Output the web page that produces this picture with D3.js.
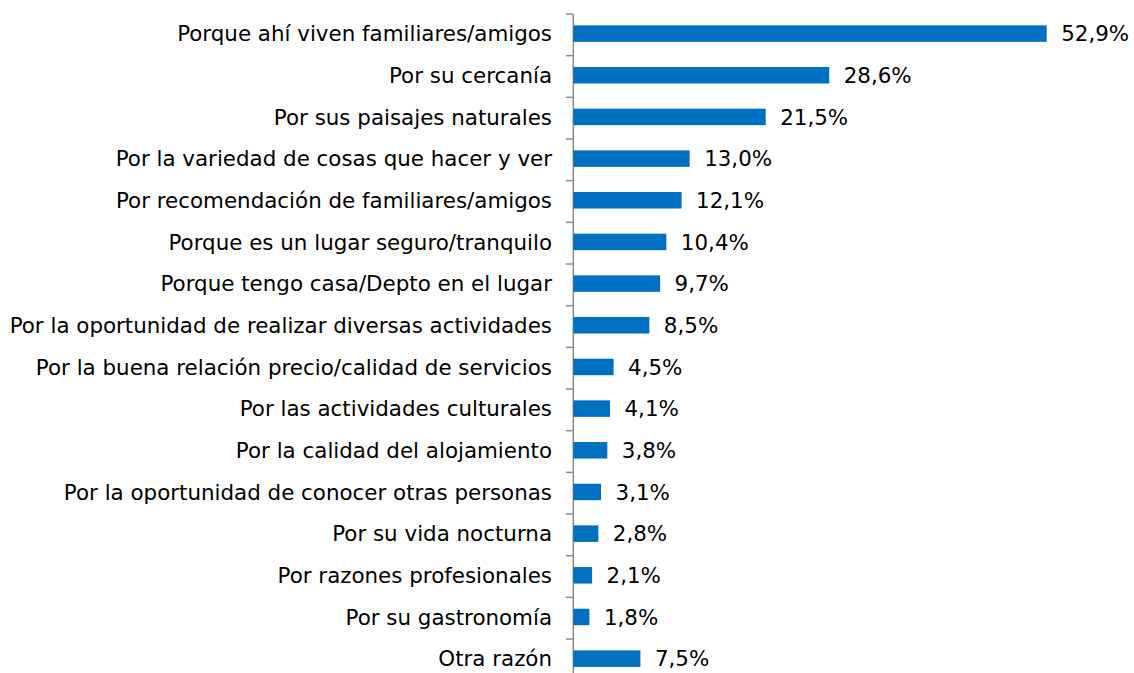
<!DOCTYPE html>
<html><head><meta charset="utf-8">
<script src="https://cdn.jsdelivr.net/npm/d3@7"></script>
<style>body{margin:0;background:#fff}svg{display:block}</style>
</head><body>
<svg id="c" width="1134" height="673"></svg>
<script>
const categories = [
  "Porque ahí viven familiares/amigos",
  "Por su cercanía",
  "Por sus paisajes naturales",
  "Por la variedad de cosas que hacer y ver",
  "Por recomendación de familiares/amigos",
  "Porque es un lugar seguro/tranquilo",
  "Porque tengo casa/Depto en el lugar",
  "Por la oportunidad de realizar diversas actividades",
  "Por la buena relación precio/calidad de servicios",
  "Por las actividades culturales",
  "Por la calidad del alojamiento",
  "Por la oportunidad de conocer otras personas",
  "Por su vida nocturna",
  "Por razones profesionales",
  "Por su gastronomía",
  "Otra razón"
];
const values = [52.9, 28.6, 21.5, 13.0, 12.1, 10.4, 9.7, 8.5, 4.5, 4.1, 3.8, 3.1, 2.8, 2.1, 1.8, 7.5];
const valueLabels = ["52,9%","28,6%","21,5%","13,0%","12,1%","10,4%","9,7%","8,5%","4,5%","4,1%","3,8%","3,1%","2,8%","2,1%","1,8%","7,5%"];

const svg = d3.select("#c");
const x0 = 573.3, plotTop = 13.5, band = 41.67;
const x = d3.scaleLinear().domain([0, 52.9]).range([x0, 1046.7]);
const y = d3.scaleBand().domain(categories).range([plotTop, plotTop + band * categories.length]).paddingInner(0.6).paddingOuter(0.3);
const font = "'DejaVu Sans', Verdana, sans-serif";
const fs = 21.4;

// axis
const axis = d3.axisLeft(d3.scaleLinear().domain([0, categories.length]).range([plotTop, plotTop + band * categories.length]))
  .tickValues(d3.range(0, categories.length + 1)).tickSize(7).tickSizeOuter(0).tickFormat("");
const g = svg.append("g").attr("transform", `translate(${x0 - 0.5},0)`).call(axis);
g.selectAll("path, line").attr("stroke", "#8c8c8c").attr("stroke-width", 1.5);

svg.append("g").selectAll("rect").data(values).join("rect")
  .attr("x", x(0)).attr("y", (d, i) => y(categories[i]) + y.bandwidth() / 2 - 9)
  .attr("width", d => x(d) - x(0)).attr("height", 16.5)
  .attr("fill", "#0070c0");

svg.append("g").selectAll("text").data(categories).join("text")
  .attr("x", 552).attr("y", d => y(d) + y.bandwidth() / 2 + 1)
  .attr("text-anchor", "end").attr("dominant-baseline", "middle")
  .attr("font-family", font).attr("font-size", fs).attr("fill", "#000")
  .text(d => d);

svg.append("g").selectAll("text").data(values).join("text")
  .attr("x", d => x(d) + 14.5).attr("y", (d, i) => y(categories[i]) + y.bandwidth() / 2 + 1)
  .attr("dominant-baseline", "middle")
  .attr("font-family", font).attr("font-size", fs).attr("fill", "#000")
  .text((d, i) => valueLabels[i]);
</script>
</body></html>
